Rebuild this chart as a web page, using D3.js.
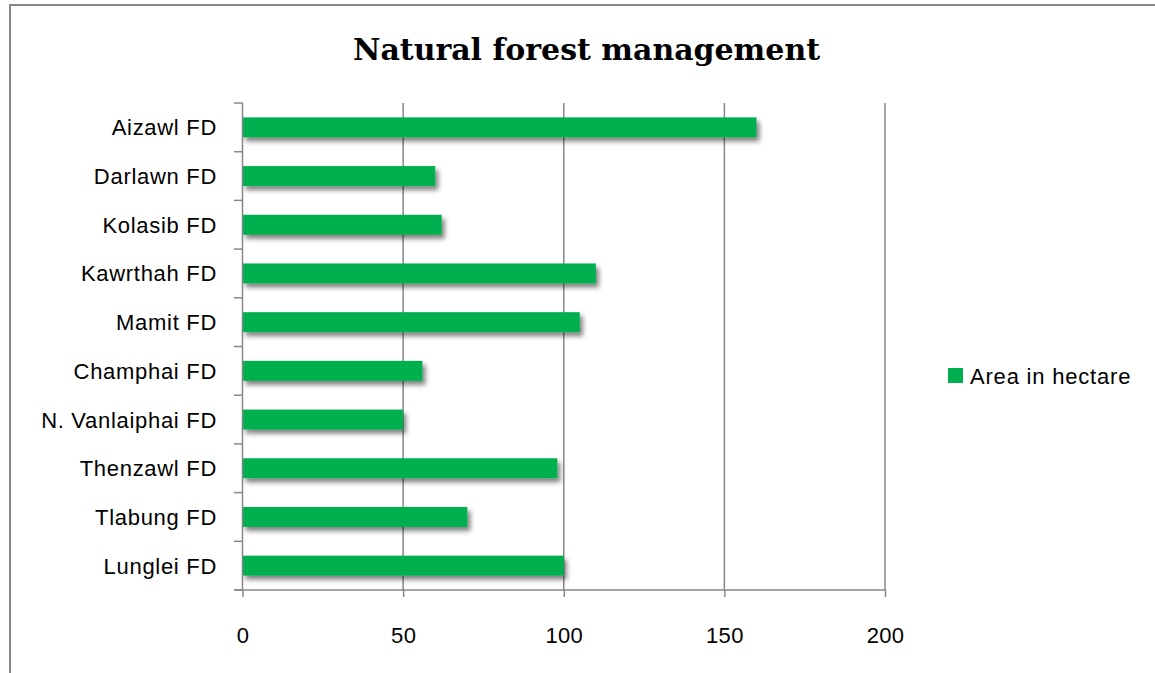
<!DOCTYPE html>
<html>
<head>
<meta charset="utf-8">
<script src="https://cdn.jsdelivr.net/npm/d3@7"></script>
<style>
  html, body { margin: 0; padding: 0; background: #ffffff; }
  svg { display: block; }
</style>
</head>
<body>
<svg id="chart" width="1155" height="673"></svg>
<script>
const categories = ["Aizawl FD", "Darlawn FD", "Kolasib FD", "Kawrthah FD", "Mamit FD",
  "Champhai FD", "N. Vanlaiphai FD", "Thenzawl FD", "Tlabung FD", "Lunglei FD"];
const values = [160, 60, 62, 110, 105, 56, 50, 98, 70, 100];
const xTicks = [0, 50, 100, 150, 200];
const seriesName = "Area in hectare";
const titleText = "Natural forest management";

const svg = d3.select("#chart");
const gray = "#878787";
const green = "#00B050";
const sans = "'Liberation Sans', Arial, sans-serif";

// defs: shadow
const defs = svg.append("defs");
const f = defs.append("filter").attr("id", "shadow")
  .attr("x", "-5%").attr("y", "-40%").attr("width", "115%").attr("height", "200%");
f.append("feGaussianBlur").attr("in", "SourceAlpha").attr("stdDeviation", 2.6).attr("result", "b");
f.append("feOffset").attr("in", "b").attr("dx", 3).attr("dy", 4).attr("result", "o");
f.append("feComponentTransfer").attr("in", "o").attr("result", "s")
  .append("feFuncA").attr("type", "linear").attr("slope", 0.5);
const m = f.append("feMerge");
m.append("feMergeNode").attr("in", "s");
m.append("feMergeNode").attr("in", "SourceGraphic");

// frame
svg.append("path")
  .attr("d", "M10,673 L10,5 L1155,5")
  .attr("fill", "none").attr("stroke", gray).attr("stroke-width", 2);

// scales
const x = d3.scaleLinear().domain([0, 200]).range([242.5, 885]);
const y = d3.scaleBand().domain(categories).range([103, 590])
  .paddingInner(0.59).paddingOuter(0.295);

// gridlines
svg.append("g").selectAll("line").data(xTicks.filter(d => d > 0)).join("line")
  .attr("x1", d => x(d)).attr("x2", d => x(d))
  .attr("y1", 103).attr("y2", 590)
  .attr("stroke", gray).attr("stroke-width", 1.5);

// bars
svg.append("g").attr("filter", "url(#shadow)")
  .selectAll("rect").data(categories).join("rect")
  .attr("x", x(0))
  .attr("y", d => y(d))
  .attr("width", (d, i) => x(values[i]) - x(0))
  .attr("height", y.bandwidth())
  .attr("fill", green);

// y axis line and ticks at band boundaries
const half = (y.step() - y.bandwidth()) / 2;
const bounds = categories.map(c => y(c) - half).concat([590]);
svg.append("line").attr("x1", 242.5).attr("x2", 242.5).attr("y1", 103).attr("y2", 590)
  .attr("stroke", gray).attr("stroke-width", 1.5);
svg.append("g").selectAll("line").data(bounds).join("line")
  .attr("x1", 234).attr("x2", 242.5)
  .attr("y1", d => d).attr("y2", d => d)
  .attr("stroke", gray).attr("stroke-width", 1.5);

// x axis
const xAxis = d3.axisBottom(x).tickValues(xTicks).tickSize(7).tickPadding(30).tickSizeOuter(0);
const gx = svg.append("g").attr("transform", "translate(0,590)").call(xAxis);
gx.select(".domain").remove();
gx.selectAll(".tick line").attr("stroke", gray).attr("stroke-width", 1.5);
gx.selectAll(".tick text")
  .attr("font-family", sans).attr("font-size", 22).attr("fill", "#000")
  .attr("letter-spacing", 0.3);
svg.append("line").attr("x1", 234).attr("x2", 885.75).attr("y1", 590).attr("y2", 590)
  .attr("stroke", gray).attr("stroke-width", 1.5);

// category labels
svg.append("g").selectAll("text").data(categories).join("text")
  .attr("x", 217)
  .attr("y", d => y(d) + y.bandwidth() / 2 + 8)
  .attr("text-anchor", "end")
  .attr("font-family", sans).attr("font-size", 22)
  .attr("letter-spacing", 0.7)
  .attr("fill", "#000")
  .text(d => d);

// title
svg.append("text")
  .attr("x", 586.5).attr("y", 60)
  .attr("text-anchor", "middle")
  .attr("font-family", "'DejaVu Serif', 'Liberation Serif', serif")
  .attr("font-weight", "bold").attr("font-size", 30)
  .attr("textLength", 467).attr("lengthAdjust", "spacingAndGlyphs")
  .attr("fill", "#000")
  .text(titleText);

// legend
const lg = svg.append("g");
lg.append("rect").attr("x", 948).attr("y", 368).attr("width", 15).attr("height", 15).attr("fill", green);
lg.append("text").attr("x", 970).attr("y", 384)
  .attr("font-family", sans).attr("font-size", 22).attr("letter-spacing", 0.8)
  .attr("fill", "#000").text(seriesName);
</script>
</body>
</html>
